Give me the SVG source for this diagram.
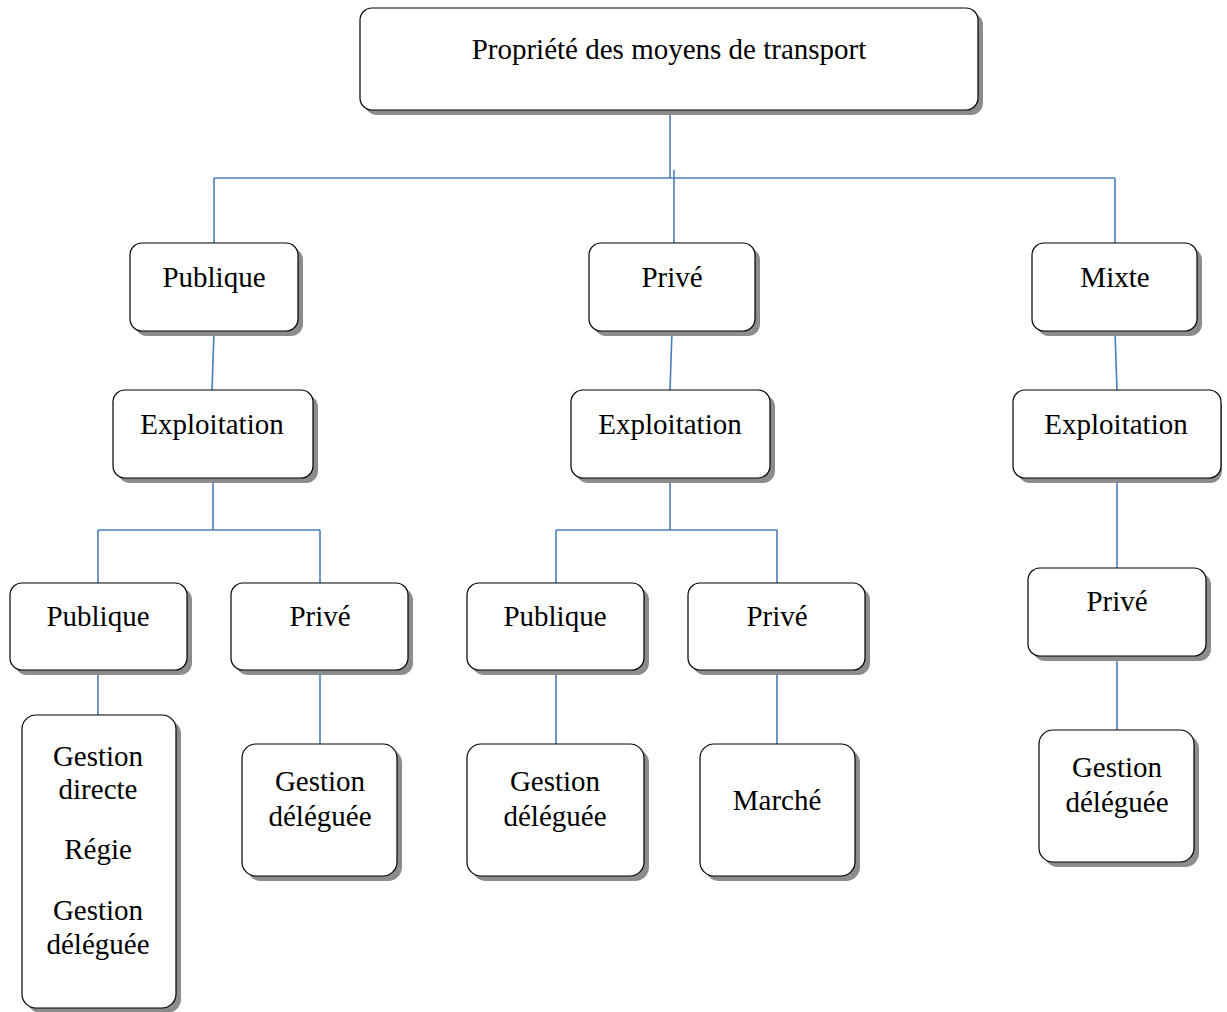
<svg xmlns="http://www.w3.org/2000/svg" width="1227" height="1012" viewBox="0 0 1227 1012">
<style>
.sh{fill:#8c8c8c}
.bx{fill:#fff;stroke:#000;stroke-width:1.2}
.t{font-family:"Liberation Serif","Times New Roman",serif;font-size:29px;fill:#000;text-anchor:middle}
.c{stroke:#4a7ebb;stroke-width:1.6;fill:none}
</style>
<rect width="1227" height="1012" fill="#fff"/>
<g id="connectors">
<path class="c" d="M670 110V178M214 178H1115M214 178V243M1115 178V243M674 170V243"/>
<path class="c" d="M214 331L212 390M672 331L670 390M1115 331L1117 390"/>
<path class="c" d="M213 478V530M98 530H320M98 530V583M320 530V583"/>
<path class="c" d="M670 478V530M556 530H777M556 530V583M777 530V583"/>
<path class="c" d="M1117 478V568"/>
<path class="c" d="M98 670V715M320 670V744M556 670V744M777 670V744M1117 656V730"/>
</g>
<g id="root"><rect class="sh" x="365" y="13" width="618" height="102" rx="12"/><rect class="bx" x="360" y="8" width="618" height="102" rx="12"/><text class="t" x="669" y="59">Propriété des moyens de transport</text></g>
<g id="publique1"><rect class="sh" x="135" y="248" width="168" height="88" rx="12"/><rect class="bx" x="130" y="243" width="168" height="88" rx="12"/><text class="t" x="214" y="287">Publique</text></g>
<g id="prive1"><rect class="sh" x="594" y="248" width="166" height="88" rx="12"/><rect class="bx" x="589" y="243" width="166" height="88" rx="12"/><text class="t" x="672" y="287">Privé</text></g>
<g id="mixte1"><rect class="sh" x="1037" y="248" width="165" height="88" rx="12"/><rect class="bx" x="1032" y="243" width="165" height="88" rx="12"/><text class="t" x="1115" y="287">Mixte</text></g>
<g id="exploit-left"><rect class="sh" x="118" y="395" width="200" height="88" rx="12"/><rect class="bx" x="113" y="390" width="200" height="88" rx="12"/><text class="t" x="212" y="434">Exploitation</text></g>
<g id="exploit-mid"><rect class="sh" x="576" y="395" width="199" height="88" rx="12"/><rect class="bx" x="571" y="390" width="199" height="88" rx="12"/><text class="t" x="670" y="434">Exploitation</text></g>
<g id="exploit-right"><rect class="sh" x="1018" y="395" width="204" height="88" rx="12"/><rect class="bx" x="1013" y="390" width="208" height="88" rx="12"/><text class="t" x="1116" y="434">Exploitation</text></g>
<g id="publique-left"><rect class="sh" x="15" y="588" width="177" height="87" rx="12"/><rect class="bx" x="10" y="583" width="177" height="87" rx="12"/><text class="t" x="98" y="626">Publique</text></g>
<g id="prive-left"><rect class="sh" x="236" y="588" width="177" height="87" rx="12"/><rect class="bx" x="231" y="583" width="177" height="87" rx="12"/><text class="t" x="320" y="626">Privé</text></g>
<g id="publique-mid"><rect class="sh" x="472" y="588" width="177" height="87" rx="12"/><rect class="bx" x="467" y="583" width="177" height="87" rx="12"/><text class="t" x="555" y="626">Publique</text></g>
<g id="prive-mid"><rect class="sh" x="693" y="588" width="177" height="87" rx="12"/><rect class="bx" x="688" y="583" width="177" height="87" rx="12"/><text class="t" x="777" y="626">Privé</text></g>
<g id="prive-right"><rect class="sh" x="1033" y="573" width="178" height="88" rx="12"/><rect class="bx" x="1028" y="568" width="178" height="88" rx="12"/><text class="t" x="1117" y="611">Privé</text></g>
<g id="gestion-directe"><rect class="sh" x="27" y="720" width="154" height="293" rx="14"/><rect class="bx" x="22" y="715" width="154" height="293" rx="14"/><text class="t" x="98" y="766">Gestion</text><text class="t" x="98" y="799">directe</text><text class="t" x="98" y="859">Régie</text><text class="t" x="98" y="920">Gestion</text><text class="t" x="98" y="954">déléguée</text></g>
<g id="gd-left"><rect class="sh" x="247" y="749" width="155" height="132" rx="14"/><rect class="bx" x="242" y="744" width="155" height="132" rx="14"/><text class="t" x="320" y="791">Gestion</text><text class="t" x="320" y="826">déléguée</text></g>
<g id="gd-mid"><rect class="sh" x="472" y="749" width="177" height="132" rx="14"/><rect class="bx" x="467" y="744" width="177" height="132" rx="14"/><text class="t" x="555" y="791">Gestion</text><text class="t" x="555" y="826">déléguée</text></g>
<g id="marche"><rect class="sh" x="705" y="749" width="155" height="132" rx="14"/><rect class="bx" x="700" y="744" width="155" height="132" rx="14"/><text class="t" x="777" y="810">Marché</text></g>
<g id="gd-right"><rect class="sh" x="1044" y="735" width="155" height="132" rx="14"/><rect class="bx" x="1039" y="730" width="155" height="132" rx="14"/><text class="t" x="1117" y="777">Gestion</text><text class="t" x="1117" y="812">déléguée</text></g>
</svg>
